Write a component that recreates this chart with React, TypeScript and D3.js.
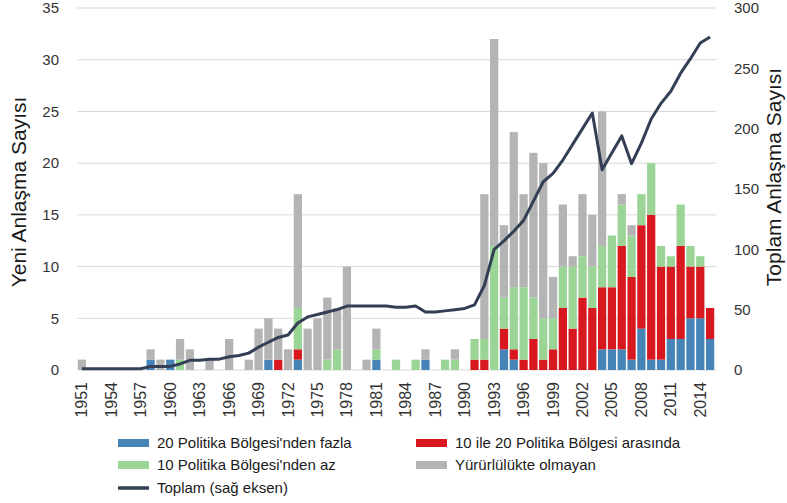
import React from "react";
import * as d3 from "d3";

const years = d3.range(1951, 2016);
const yearTicks = ["1951", "1954", "1957", "1960", "1963", "1966", "1969", "1972", "1975", "1978", "1981", "1984", "1987", "1990", "1993", "1996", "1999", "2002", "2005", "2008", "2011", "2014"];
const leftTicks = [0, 5, 10, 15, 20, 25, 30, 35];
const rightTicks = [0, 50, 100, 150, 200, 250, 300];

// bölge sayısına göre yeni anlaşmalar (1951-2015)
const over20 = [0,0,0,0,0,0,0,1,0,1, 0,0,0,0,0,0,0,0,0,1, 0,0,1,0,0,0,0,0,0,0, 1,0,0,0,0,1,0,0,0,0, 0,0,0,2,1,0,0,0,0,0, 0,0,0,2,2,2,1,4,1,1, 3,3,5,5,3];
const between10and20 = [0,0,0,0,0,0,0,0,0,0, 0,0,0,0,0,0,0,0,0,0, 1,0,1,0,0,0,0,0,0,0, 0,0,0,0,0,0,0,0,0,0, 1,1,0,2,1,1,3,1,2,6, 4,7,6,6,6,10,8,10,14,9, 7,9,5,5,3];
const under10 = [0,0,0,0,0,0,0,0,0,0, 1,0,0,0,0,0,0,0,0,0, 0,0,4,0,0,1,2,0,0,0, 1,0,1,0,1,0,0,1,1,0, 2,2,12,3,6,7,4,4,3,4, 6,4,4,4,5,4,4,3,5,2, 1,4,2,1,0];
const notInForce = [1,0,0,0,0,0,0,1,1,0, 2,2,0,1,0,3,0,1,4,4, 3,2,11,4,5,6,4,10,0,1, 2,0,0,0,0,1,0,0,1,0, 0,14,20,7,15,9,14,15,4,6, 1,6,5,13,0,1,1,0,0,0, 0,0,0,0,0];
const total = [1,1,1,1,1,1,1,3,3,3, 5,8,8,9,9,11,12,14,19,23, 27,29,39,44,46,48,50,53,53,53, 53,53,52,52,53,48,48,49,50,51, 54,70,100,107,115,124,140,156,163,174, 187,200,213,166,180,194,171,188,208,221, 231,246,258,271,276];

const keys = ["over20", "between", "under10", "notInForce"];
const colors = { over20: "#4684b8", between: "#d7191f", under10: "#9ad596", notInForce: "#b4b4b4" };
const lineColor = "#323f55";

export default function App() {
  const width = 787, height = 503;
  const plot = { left: 77, right: 715, top: 8, bottom: 370 };

  const rows = years.map((y, i) => ({
    year: y,
    over20: over20[i],
    between: between10and20[i],
    under10: under10[i],
    notInForce: notInForce[i],
  }));

  const x = d3.scaleBand<number>().domain(years).range([plot.left, plot.right]).paddingInner(0.16).paddingOuter(0.08);
  const yLeft = d3.scaleLinear().domain([0, 35]).range([plot.bottom, plot.top]);
  const yRight = d3.scaleLinear().domain([0, 300]).range([plot.bottom, plot.top]);

  const series = d3.stack<any>().keys(keys)(rows);

  const totalLine = d3.line<number>()
    .x((d, i) => (x(years[i]) as number) + x.bandwidth() / 2)
    .y(d => yRight(d))
    .curve(d3.curveLinear);

  const font = "'Liberation Sans', Arial, sans-serif";

  const legend = [
    { label: "20 Politika Bölgesi'nden fazla", color: colors.over20, col: 0, row: 0 },
    { label: "10 ile 20 Politika Bölgesi arasında", color: colors.between, col: 1, row: 0 },
    { label: "10 Politika Bölgesi'nden az", color: colors.under10, col: 0, row: 1 },
    { label: "Yürürlülükte olmayan", color: colors.notInForce, col: 1, row: 1 },
  ];
  const legendX = [118, 416];
  const legendY = [443, 465, 488];

  return (
    <svg width={width} height={height} style={{ position: "absolute", left: 0, top: 0, background: "#fff" }} fontFamily={font}>
      {leftTicks.map(t => (
        <line key={t} x1={plot.left} x2={plot.right + 1} y1={yLeft(t)} y2={yLeft(t)} stroke="#d9d9d9" strokeWidth={1} />
      ))}

      {series.map(s => (
        <g key={s.key} fill={(colors as any)[s.key]}>
          {s.map((d, i) => d[1] - d[0] > 0 ? (
            <rect key={i} x={x(years[i])} width={x.bandwidth()} y={yLeft(d[1])} height={yLeft(d[0]) - yLeft(d[1])} />
          ) : null)}
        </g>
      ))}

      <path d={totalLine(total) as string} fill="none" stroke={lineColor} strokeWidth={3} strokeLinejoin="round" />

      {leftTicks.map(t => (
        <text key={t} x={59} y={yLeft(t)} dy="0.35em" textAnchor="end" fontSize={15} fill="#333">{t}</text>
      ))}
      {rightTicks.map(t => (
        <text key={t} x={734} y={yRight(t)} dy="0.35em" textAnchor="start" fontSize={15} fill="#333">{t}</text>
      ))}

      {yearTicks.map(t => {
        const cx = (x(+t) as number) + x.bandwidth() / 2;
        return (
          <text key={t} transform={`translate(${cx + 5.5},${382}) rotate(-90)`} textAnchor="end" fontSize={16} fill="#333">{t}</text>
        );
      })}

      <text transform={`translate(26,192) rotate(-90)`} textAnchor="middle" fontSize={21} fill="#1a1a1a">Yeni Anlaşma Sayısı</text>
      <text transform={`translate(781,177) rotate(-90)`} textAnchor="middle" fontSize={21} fill="#1a1a1a">Toplam Anlaşma Sayısı</text>

      {legend.map(l => (
        <g key={l.label} transform={`translate(${legendX[l.col]},${legendY[l.row]})`}>
          <rect x={0} y={-4} width={31} height={8} fill={l.color} />
          <text x={39} y={0} dy="0.35em" fontSize={15} fill="#1a1a1a">{l.label}</text>
        </g>
      ))}
      <g transform={`translate(${legendX[0]},${legendY[2]})`}>
        <line x1={0} x2={31} y1={0} y2={0} stroke={lineColor} strokeWidth={3.5} />
        <text x={39} y={0} dy="0.35em" fontSize={15} fill="#1a1a1a">Toplam (sağ eksen)</text>
      </g>
    </svg>
  );
}
